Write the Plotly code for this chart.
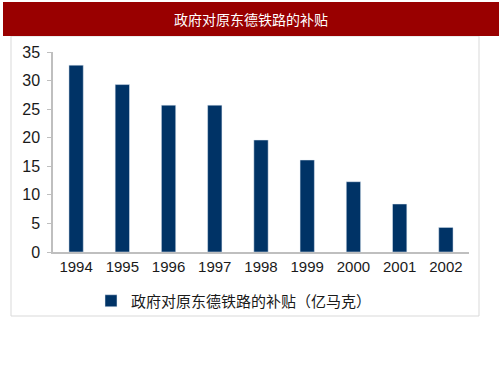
import plotly.graph_objects as go

years = ["1994", "1995", "1996", "1997", "1998", "1999", "2000", "2001", "2002"]
subsidy = [32.7, 29.3, 25.7, 25.7, 19.6, 16.1, 12.3, 8.4, 4.3]
series_name = "政府对原东德铁路的补贴（亿马克）"
title_text = "政府对原东德铁路的补贴"

W, H = 503, 378
L, R, T, B = 53, 34, 52, 126
pw, ph = W - L - R, H - T - B

def px(x):
    return (x - L) / pw

def py(y):
    return (H - B - y) / ph

fig = go.Figure()
fig.add_trace(go.Bar(x=years, y=subsidy, name=series_name,
                     marker_color="#003366", showlegend=True))

fig.update_layout(
    width=W, height=H,
    margin=dict(l=L, r=R, t=T, b=B),
    paper_bgcolor="white", plot_bgcolor="white",
    bargap=0.69,
    font=dict(family="Liberation Sans, Arial, Noto Sans CJK SC", size=15, color="#1a1a1a"),
    showlegend=True,
    legend=dict(orientation="h", x=px(234), xanchor="center", y=py(301), yanchor="middle",
                font=dict(family="Noto Sans CJK SC", size=15, color="#1a1a1a"),
                itemwidth=30, bgcolor="rgba(0,0,0,0)"),
    shapes=[
        dict(type="rect", xref="paper", yref="paper",
             x0=px(11), x1=px(479), y0=py(316), y1=py(36),
             line=dict(color="#d9d9d9", width=1), fillcolor="rgba(0,0,0,0)", layer="below"),
        dict(type="rect", xref="paper", yref="paper",
             x0=px(3), x1=px(499), y0=py(36), y1=py(2),
             line=dict(width=0), fillcolor="#990000"),
    ],
    annotations=[
        dict(text=title_text, xref="paper", yref="paper", x=px(251), y=py(19),
             xanchor="center", yanchor="middle", showarrow=False,
             font=dict(family="Noto Sans CJK SC", size=14, color="white")),
    ],
)
fig.update_xaxes(showline=True, linecolor="#bfbfbf", linewidth=1.5, ticks="",
                 showgrid=False, tickfont=dict(size=15))
fig.update_yaxes(range=[0, 35], dtick=5, showline=True, linecolor="#bfbfbf", linewidth=1.5,
                 ticks="outside", ticklen=4, tickcolor="#bfbfbf", showgrid=False,
                 zeroline=False, tickfont=dict(size=16), ticklabelstandoff=4)

fig.write_html("out.html", config={"displayModeBar": False},
               post_script="document.body.style.margin='0';")
